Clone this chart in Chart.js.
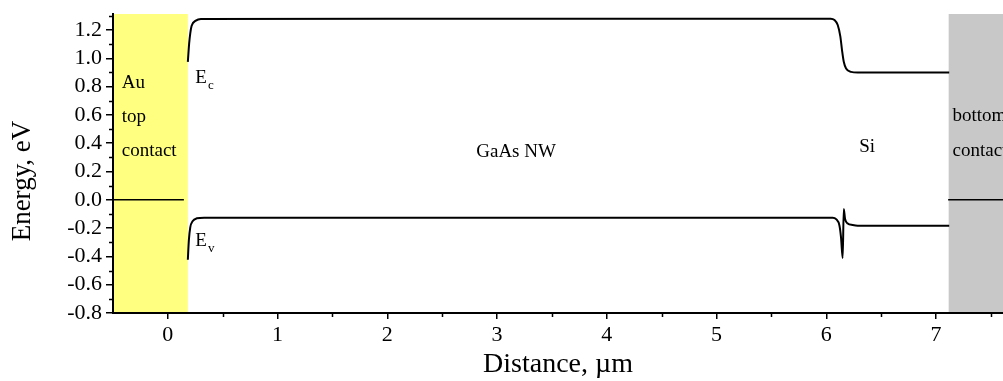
<!DOCTYPE html>
<html>
<head>
<meta charset="utf-8">
<title>GaAs NW band diagram</title>
<script src="https://cdn.jsdelivr.net/npm/chart.js@4.4.1/dist/chart.umd.min.js"></script>
<style>
  html, body { margin: 0; padding: 0; background: #fff; }
  #wrap { width: 1003px; height: 381px; }
</style>
</head>
<body>
<div id="wrap"><canvas id="bandChart" width="1003" height="381"></canvas></div>
<script>
// conduction band edge Ec (eV) vs distance (um)
var ecX = [0.182, 0.194, 0.204, 0.216, 0.255, 0.301, 2.0, 4.0, 6.04, 6.074, 6.104, 6.128, 6.143, 6.159, 6.18, 6.225, 6.286, 7.12];
var ecY = [0.975, 1.105, 1.176, 1.228, 1.266, 1.278, 1.28, 1.28, 1.28, 1.271, 1.235, 1.153, 1.058, 0.975, 0.928, 0.904, 0.90, 0.90];

// valence band edge Ev (eV)
var evX = [0.182, 0.191, 0.204, 0.225, 0.264, 0.331, 2.0, 4.0, 6.058, 6.089, 6.12, 6.134, 6.149, 6.159, 6.171, 6.195, 6.24, 6.286, 7.12];
var evY = [-0.424, -0.289, -0.195, -0.152, -0.131, -0.126, -0.126, -0.126, -0.126, -0.136, -0.183, -0.266, -0.412, -0.065, -0.136, -0.167, -0.178, -0.183, -0.183];

// Fermi level inside the metal contacts
var fermiTopX = [-0.5, 0.146];
var fermiBottomX = [7.11, 7.61];
var fermiLevel = 0;

// contact regions (um)
var contactFrom = [-0.5, 7.115];
var contactTo = [0.182, 7.61];

// text labels, anchored at data coordinates (left / baseline)
var labelText = ['Au', 'top', 'contact', 'GaAs NW', 'Si', 'bottom', 'contact'];
var labelX = [-0.42, -0.42, -0.42, 2.81, 6.30, 7.15, 7.15];
var labelY = [0.79, 0.55, 0.31, 0.30, 0.335, 0.555, 0.313];

var bandSub = ['c', 'v'];
var bandLabelX = [0.25, 0.25];
var bandLabelY = [0.824, -0.325];

var xTitle = 'Distance, \u00b5m';
var yTitle = 'Energy, eV';

function toPoints(xs, ys) {
    var pts = [];
    for (var i = 0; i < xs.length; i++) {
        pts.push({ x: xs[i], y: ys[i] });
    }
    return pts;
}

var serif = '"Liberation Serif", "Times New Roman", serif';
Chart.defaults.color = '#000';
Chart.defaults.font.family = serif;

// contact boxes, behind everything
var regionsPlugin = {
    id: 'regions',
    beforeDraw: function(chart) {
        var ctx = chart.ctx, area = chart.chartArea, xs = chart.scales.x;
        var colors = ['#ffff80', '#c8c8c8'];
        ctx.save();
        for (var i = 0; i < contactFrom.length; i++) {
            var a = xs.getPixelForValue(contactFrom[i]);
            var b = xs.getPixelForValue(contactTo[i]);
            ctx.fillStyle = colors[i];
            ctx.fillRect(a, area.top, b - a, area.bottom - area.top);
        }
        ctx.restore();
    }
};

// region names, Ec / Ev labels
var labelsPlugin = {
    id: 'labels',
    afterDatasetsDraw: function(chart) {
        var ctx = chart.ctx, xs = chart.scales.x, ys = chart.scales.y;
        ctx.save();
        ctx.fillStyle = '#000';
        ctx.textAlign = 'left';
        ctx.textBaseline = 'alphabetic';
        ctx.font = '19px ' + serif;
        for (var i = 0; i < labelText.length; i++) {
            ctx.fillText(labelText[i], xs.getPixelForValue(labelX[i]), ys.getPixelForValue(labelY[i]));
        }
        for (var j = 0; j < bandSub.length; j++) {
            var px = xs.getPixelForValue(bandLabelX[j]);
            var py = ys.getPixelForValue(bandLabelY[j]);
            ctx.font = '19px ' + serif;
            ctx.fillText('E', px, py);
            var w = ctx.measureText('E').width;
            ctx.font = '13px ' + serif;
            ctx.fillText(bandSub[j], px + w + 1, py + 6);
        }
        ctx.restore();
    }
};

// minor ticks and the y axis title
var axisExtrasPlugin = {
    id: 'axisExtras',
    afterDraw: function(chart) {
        var ctx = chart.ctx, area = chart.chartArea, xs = chart.scales.x, ys = chart.scales.y;
        ctx.save();
        ctx.strokeStyle = '#000';
        ctx.lineWidth = 1.5;
        ctx.beginPath();
        for (var v = -0.7; v < ys.max; v += 0.2) {
            var py = Math.round(ys.getPixelForValue(v)) + 0.5;
            ctx.moveTo(area.left - 4, py);
            ctx.lineTo(area.left, py);
        }
        for (var u = 0.5; u < xs.max; u += 1) {
            var px = Math.round(xs.getPixelForValue(u)) + 0.5;
            ctx.moveTo(px, area.bottom);
            ctx.lineTo(px, area.bottom + 4);
        }
        ctx.stroke();

        ctx.translate(23, 181);
        ctx.rotate(-Math.PI / 2);
        ctx.font = '27px ' + serif;
        ctx.fillStyle = '#000';
        ctx.textAlign = 'center';
        ctx.textBaseline = 'middle';
        ctx.fillText(yTitle, 0, 0);
        ctx.restore();
    }
};

var lineStyle = {
    showLine: true,
    borderColor: '#000',
    backgroundColor: '#000',
    pointRadius: 0,
    fill: false
};

var config = {
    type: 'scatter',
    data: {
        datasets: [
            Object.assign({ label: 'Ec', data: toPoints(ecX, ecY), borderWidth: 2, cubicInterpolationMode: 'monotone' }, lineStyle),
            Object.assign({ label: 'Ev', data: toPoints(evX, evY), borderWidth: 2, cubicInterpolationMode: 'monotone' }, lineStyle),
            Object.assign({ label: 'EF top', data: toPoints(fermiTopX, [fermiLevel, fermiLevel]), borderWidth: 1.6 }, lineStyle),
            Object.assign({ label: 'EF bottom', data: toPoints(fermiBottomX, [fermiLevel, fermiLevel]), borderWidth: 1.6 }, lineStyle)
        ]
    },
    options: {
        responsive: false,
        animation: false,
        layout: { padding: { top: 14, right: 0, bottom: 0, left: 0 } },
        plugins: {
            legend: { display: false },
            tooltip: { enabled: false }
        },
        scales: {
            x: {
                type: 'linear',
                min: -0.5,
                max: 7.61,
                border: { display: true, color: '#000', width: 2 },
                grid: { display: true, drawOnChartArea: false, drawTicks: true, tickLength: 6, color: '#000', lineWidth: 1.5 },
                ticks: {
                    stepSize: 1,
                    includeBounds: false,
                    maxRotation: 0,
                    padding: 3,
                    font: { size: 22 },
                    callback: function(v) { return String(Math.round(v)); }
                },
                title: { display: true, text: xTitle, font: { size: 28 }, padding: { top: 0, bottom: 0 } },
                afterFit: function(scale) {
                    scale.height = 68;
                    scale.paddingLeft = 0;
                    scale.paddingRight = 0;
                }
            },
            y: {
                type: 'linear',
                min: -0.8,
                max: 1.313,
                border: { display: true, color: '#000', width: 2 },
                grid: { display: true, drawOnChartArea: false, drawTicks: true, tickLength: 7, color: '#000', lineWidth: 1.5 },
                ticks: {
                    stepSize: 0.2,
                    includeBounds: false,
                    padding: 4,
                    font: { size: 22 },
                    callback: function(v) { return Math.abs(v) < 1e-9 ? '0.0' : v.toFixed(1); }
                },
                title: { display: false },
                afterFit: function(scale) {
                    scale.width = 113;
                    scale.paddingTop = 0;
                    scale.paddingBottom = 0;
                }
            }
        }
    },
    plugins: [regionsPlugin, labelsPlugin, axisExtrasPlugin]
};

var ctx = document.getElementById('bandChart').getContext('2d');
window.bandChart = new Chart(ctx, config);
</script>
</body>
</html>
